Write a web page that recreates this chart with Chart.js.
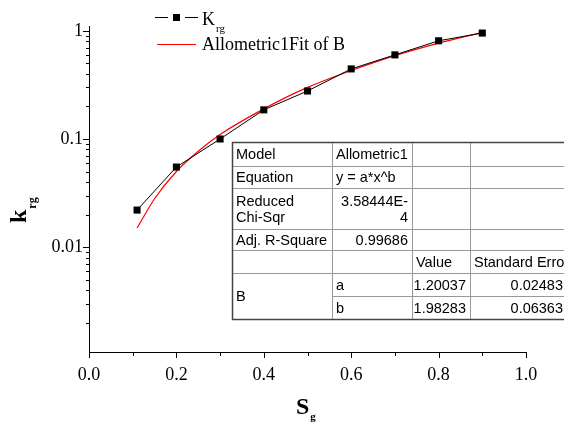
<!DOCTYPE html>
<html>
<head>
<meta charset="utf-8">
<script src="https://cdn.jsdelivr.net/npm/chart.js@4"></script>
<style>
    html, body { margin: 0; padding: 0; background: #fff; }
    #wrap { width: 564px; height: 423px; }
</style>
</head>
<body>
<div id="wrap"><canvas id="c" width="564" height="423"></canvas></div>
<script>
// measured points (K_rg)
const sgValues = [0.11, 0.2, 0.3, 0.4, 0.5, 0.6, 0.7, 0.8, 0.9];
const krgValues = [0.022, 0.055, 0.1, 0.186, 0.278, 0.445, 0.6, 0.81, 0.955];

// fit curve
const fitX = [0.11, 0.15, 0.2, 0.25, 0.3, 0.4, 0.5, 0.6, 0.7, 0.8, 0.9];
const fitY = [0.015, 0.028, 0.05, 0.077, 0.11, 0.19, 0.30, 0.43, 0.59, 0.77, 0.97];

const xTickLabels = [0, 0.2, 0.4, 0.6, 0.8, 1.0];
const yTickLabels = [0.01, 0.1, 1];

// fit report table
const tableRows = [
    ['Model', 'Allometric1', '', ''],
    ['Equation', 'y = a*x^b', '', ''],
    ['Reduced\nChi-Sqr', '3.58444E-\n4', '', ''],
    ['Adj. R-Square', '0.99686', '', ''],
    ['', '', 'Value', 'Standard Error'],
    ['B', 'a', '1.20037', '0.02483'],
    ['', 'b', '1.98283', '0.06363'],
];

const serif = '"Liberation Serif", "Times New Roman", serif';
const sans = '"Liberation Sans", Arial, sans-serif';

function toPts(xs, ys)
{
    let pts = [];
    for (let i = 0; i < xs.length; i++)
    {
        pts.push({ x: xs[i], y: ys[i] });
    }
    return pts;
}

function subText(ctx, x, y, main, sub, size, subSize, bold, drop)
{
    ctx.font = (bold ? 'bold ' : '') + size + 'px ' + serif;
    ctx.fillText(main, x, y);
    let w = ctx.measureText(main).width;
    ctx.font = (bold ? 'bold ' : '') + subSize + 'px ' + serif;
    ctx.fillText(sub, x + w + 1, y + drop);
}

const decorPlugin = {
    id: 'decor',
    afterDraw: chart =>
    {
        let ctx = chart.ctx;
        let xs = chart.scales.x;
        let ys = chart.scales.y;
        let area = chart.chartArea;
        ctx.save();
        ctx.strokeStyle = '#000';
        ctx.lineWidth = 1;

        // x ticks (outward)
        for (let i = 0; i <= 10; i++)
        {
            let px = Math.round(xs.getPixelForValue(i / 10)) + 0.5;
            let len = i % 2 === 0 ? 6 : 4;
            ctx.beginPath();
            ctx.moveTo(px, area.bottom);
            ctx.lineTo(px, area.bottom + len);
            ctx.stroke();
        }

        // y ticks (outward), minor ticks per decade
        for (let d = -3; d <= 0; d++)
        {
            for (let m = 1; m <= 9; m++)
            {
                let v = m * Math.pow(10, d);
                if (v < ys.min || v > ys.max) continue;
                let py = Math.round(ys.getPixelForValue(v)) + 0.5;
                let len = m === 1 ? 6 : 3;
                ctx.beginPath();
                ctx.moveTo(area.left, py);
                ctx.lineTo(area.left - len, py);
                ctx.stroke();
            }
        }

        // axis titles
        ctx.fillStyle = '#000';
        ctx.textBaseline = 'alphabetic';
        ctx.textAlign = 'left';
        subText(ctx, 296, 414, 'S', 'g', 24, 11, true, 6);

        ctx.save();
        ctx.translate(26, 223);
        ctx.rotate(-Math.PI / 2);
        subText(ctx, 0, 0, 'k', 'rg', 24, 12, true, 10);
        ctx.restore();

        // legend
        ctx.strokeStyle = '#000';
        ctx.beginPath();
        ctx.moveTo(155, 17.5);
        ctx.lineTo(168, 17.5);
        ctx.moveTo(185, 17.5);
        ctx.lineTo(198, 17.5);
        ctx.stroke();
        ctx.fillRect(173, 14, 7, 7);
        ctx.fillStyle = '#000';
        subText(ctx, 202, 25, 'K', 'rg', 18, 11, false, 7);

        ctx.strokeStyle = '#ff0000';
        ctx.beginPath();
        ctx.moveTo(157, 44.5);
        ctx.lineTo(196, 44.5);
        ctx.stroke();
        ctx.font = '18px ' + serif;
        ctx.fillText('Allometric1Fit of B', 202, 50);

        // fit report table
        let colX = [232, 332, 412, 470, 580];
        let rowY = [142, 166, 188, 229, 250, 273, 296, 319];
        ctx.fillStyle = '#fff';
        ctx.fillRect(colX[0], rowY[0], 564 - colX[0], rowY[7] - rowY[0]);

        ctx.strokeStyle = '#999';
        ctx.lineWidth = 1;
        for (let r = 1; r < rowY.length - 1; r++)
        {
            ctx.beginPath();
            // B spans the last two rows in the first column
            let startX = r === 6 ? colX[1] : colX[0];
            ctx.moveTo(startX, rowY[r] + 0.5);
            ctx.lineTo(564, rowY[r] + 0.5);
            ctx.stroke();
        }
        for (let c = 1; c < 4; c++)
        {
            ctx.beginPath();
            ctx.moveTo(colX[c] + 0.5, rowY[0]);
            ctx.lineTo(colX[c] + 0.5, rowY[7]);
            ctx.stroke();
        }
        ctx.strokeStyle = '#444';
        ctx.lineWidth = 1.5;
        ctx.strokeRect(colX[0] + 0.5, rowY[0] + 0.5, 600, rowY[7] - rowY[0]);

        ctx.fillStyle = '#000';
        ctx.font = '14.5px ' + sans;
        ctx.textBaseline = 'middle';
        for (let r = 0; r < tableRows.length; r++)
        {
            for (let c = 0; c < 4; c++)
            {
                let txt = tableRows[r][c];
                if (!txt) continue;
                let lines = txt.split('\n');
                let top = rowY[r];
                let bottom = rowY[r + 1];
                if (r === 5 && c === 0) bottom = rowY[7];
                let numeric = /^[0-9.E\-]+$/.test(lines[0]) && !(c === 1 && r >= 5);
                let tx;
                if (numeric)
                {
                    ctx.textAlign = 'right';
                    tx = (c === 3 ? 563 : colX[c + 1] - 4);
                }
                else
                {
                    ctx.textAlign = 'left';
                    tx = colX[c] + 4;
                }
                let lh = 16;
                let cy = (top + bottom) / 2 - (lines.length - 1) * lh / 2;
                for (let k = 0; k < lines.length; k++)
                {
                    ctx.fillText(lines[k], tx, cy + k * lh + 1);
                }
            }
        }
        ctx.restore();
    }
};

let config = {
    type: 'scatter',
    data: {
        datasets: [
            {
                label: 'Krg',
                data: toPts(sgValues, krgValues),
                showLine: true,
                borderColor: '#000',
                backgroundColor: '#000',
                borderWidth: 1,
                pointStyle: 'rect',
                pointRadius: 5,
                pointBorderWidth: 0,
            },
            {
                label: 'Allometric1Fit of B',
                data: toPts(fitX, fitY),
                showLine: true,
                borderColor: '#ff0000',
                backgroundColor: '#ff0000',
                borderWidth: 1.2,
                pointRadius: 0,
                cubicInterpolationMode: 'monotone',
            },
        ]
    },
    options: {
        responsive: false,
        animation: false,
        layout: { padding: { top: 26, right: 38, left: 0, bottom: 0 } },
        scales: {
            x: {
                type: 'linear',
                min: 0,
                max: 1,
                grid: { drawOnChartArea: false, drawTicks: false },
                border: { display: true, color: '#000', width: 1 },
                afterBuildTicks: scale =>
                {
                    scale.ticks = xTickLabels.map(v => ({ value: v }));
                },
                afterFit: scale => { scale.height = 71; },
                ticks: {
                    padding: 12,
                    color: '#000',
                    font: { family: serif, size: 18 },
                    callback: v => v.toFixed(1),
                },
            },
            y: {
                type: 'logarithmic',
                min: 0.00107,
                max: 1.11,
                grid: { drawOnChartArea: false, drawTicks: false },
                border: { display: true, color: '#000', width: 1 },
                afterBuildTicks: scale =>
                {
                    scale.ticks = yTickLabels.map(v => ({ value: v }));
                },
                afterFit: scale => { scale.width = 89; },
                ticks: {
                    padding: 6,
                    color: '#000',
                    font: { family: serif, size: 18 },
                    callback: v => String(v),
                },
            },
        },
        plugins: {
            legend: { display: false },
            tooltip: { enabled: false },
        },
    },
    plugins: [decorPlugin],
};

new Chart(document.getElementById('c'), config);
</script>
</body>
</html>
